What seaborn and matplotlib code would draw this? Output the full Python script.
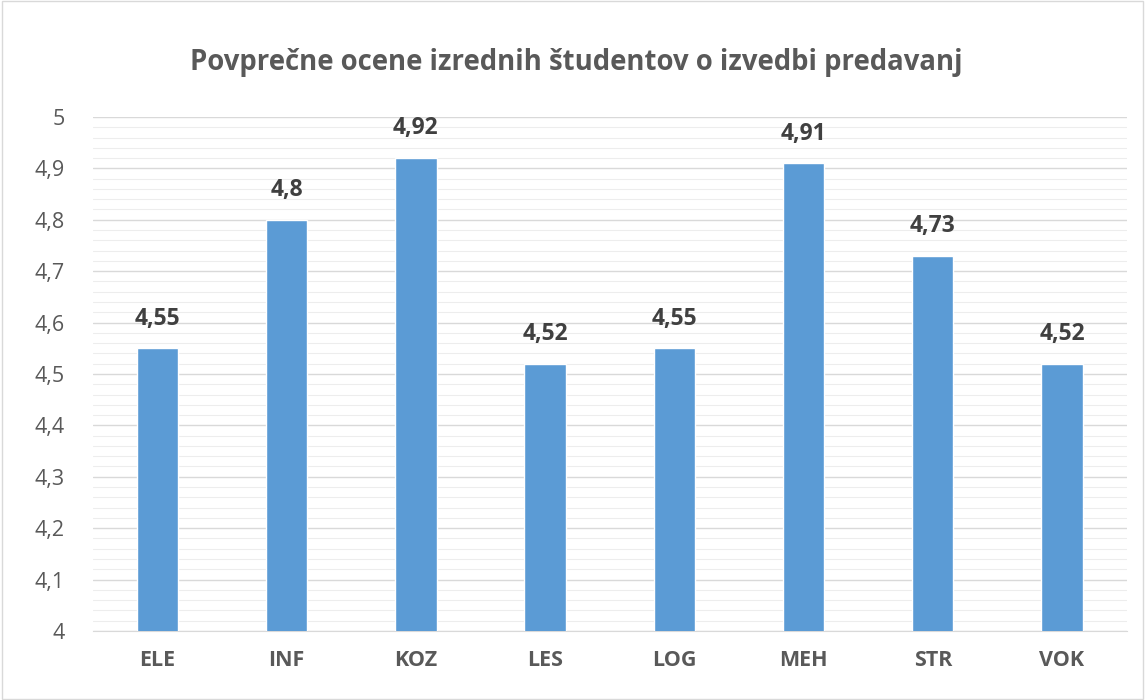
import matplotlib as mpl
import matplotlib.pyplot as plt
import seaborn as sns
import pandas as pd
from matplotlib.ticker import MultipleLocator

categories = ["ELE", "INF", "KOZ", "LES", "LOG", "MEH", "STR", "VOK"]
values = [4.55, 4.80, 4.92, 4.52, 4.55, 4.91, 4.73, 4.52]
labels = ["4,55", "4,8", "4,92", "4,52", "4,55", "4,91", "4,73", "4,52"]
yticks = [4.0, 4.1, 4.2, 4.3, 4.4, 4.5, 4.6, 4.7, 4.8, 4.9, 5.0]

if __name__ == "__main__":
    mpl.use("Agg")
    sns.set_style("white")
    plt.rcParams["font.family"] = ["Open Sans", "DejaVu Sans"]

    df = pd.DataFrame({"cat": categories, "val": values})

    fig = plt.figure(figsize=(11.45, 7), dpi=100)
    ax = fig.add_axes([0.081, 0.0986, 0.903, 0.7343])

    sns.barplot(data=df, x="cat", y="val", color="#5B9BD5", width=0.32,
                saturation=1, ax=ax, zorder=3)

    ax.set_ylim(4, 5)
    ax.set_yticks(yticks)
    ax.set_yticklabels([f"{t:g}".replace(".", ",") for t in yticks])
    ax.yaxis.set_minor_locator(MultipleLocator(0.02))
    ax.grid(axis="y", which="major", color="#D9D9D9", lw=1.0, zorder=0)
    ax.grid(axis="y", which="minor", color="#EDEDED", lw=0.8, zorder=0)
    ax.set_axisbelow(True)
    ax.tick_params(axis="both", which="both", length=0, labelcolor="#595959")
    ax.tick_params(axis="x", pad=14, labelsize=15.5)
    ax.tick_params(axis="y", pad=20, labelsize=15.5)
    for t in ax.get_xticklabels():
        t.set_fontweight("bold")
    for s in ["top", "right", "left"]:
        ax.spines[s].set_visible(False)
    ax.spines["bottom"].set_color("#D9D9D9")
    ax.set_xlabel("")
    ax.set_ylabel("")
    ax.set_xlim(-0.5, len(categories) - 0.5)

    for i, (v, lab) in enumerate(zip(values, labels)):
        ax.annotate(lab, (i, v), xytext=(0, 17), textcoords="offset points",
                    ha="center", va="baseline", fontsize=16.5, fontweight="bold",
                    color="#404040")

    fig.text(0.503, 0.911, "Povprečne ocene izrednih študentov o izvedbi predavanj",
             ha="center", va="center", fontsize=19.8, fontweight="bold",
             color="#595959")

    border = plt.Rectangle((0.002, 0.002), 0.996, 0.996, transform=fig.transFigure,
                           fill=False, edgecolor="#D9D9D9", lw=1)
    fig.patches.append(border)

    fig.savefig("out.png", dpi=100)
